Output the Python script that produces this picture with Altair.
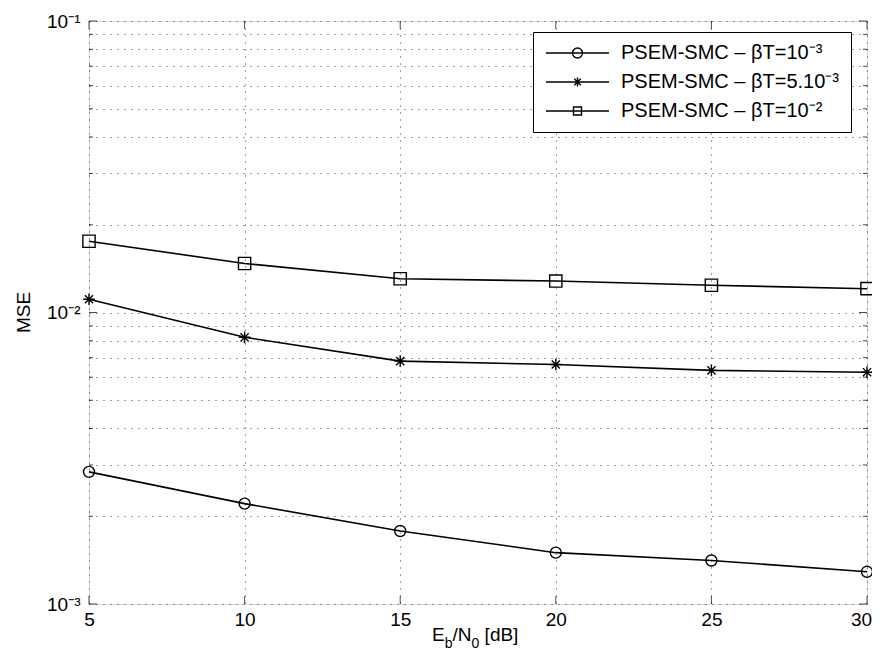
import altair as alt
import pandas as pd

# ---- data ----
ebn0 = [5, 10, 15, 20, 25, 30]
mse_bt_1e3 = [0.00284, 0.00221, 0.00178, 0.00150, 0.00141, 0.00129]
mse_bt_5e3 = [0.0111, 0.00822, 0.00681, 0.00663, 0.00633, 0.00624]
mse_bt_1e2 = [0.01755, 0.01473, 0.01306, 0.01282, 0.01240, 0.01207]
labels = ["PSEM-SMC – βT=10⁻³", "PSEM-SMC – βT=5.10⁻³", "PSEM-SMC – βT=10⁻²"]

x_ticks = [5, 10, 15, 20, 25, 30]
decades = [0.001, 0.01, 0.1]
decade_labels = ["10⁻³", "10⁻²", "10⁻¹"]
minor_mult = [2, 3, 4, 5, 6, 7, 8, 9]

FONT = "Liberation Sans"

rows = []
for lab, ys in zip(labels, [mse_bt_1e3, mse_bt_5e3, mse_bt_1e2]):
    for xv, yv in zip(ebn0, ys):
        rows.append({"x": xv, "mse": yv, "series": lab})
df = pd.DataFrame(rows)

minor_vals = [round(m * d, 6) for d in decades[:-1] for m in minor_mult]
y_grid = sorted(decades + minor_vals)

label_expr = " : ".join(
    f"datum.value == {d} ? '{t}'" for d, t in zip(decades, decade_labels)
) + " : ''"

xscale = alt.Scale(domain=[5, 30], nice=False, zero=False)
yscale = alt.Scale(type="log", domain=[0.001, 0.1], nice=False)

xaxis = alt.Axis(values=x_ticks, grid=True, gridDash=[1, 6], gridColor="black",
                 gridOpacity=0.75, ticks=False, domain=False, labelFont=FONT,
                 labelFontSize=19, labelColor="black", labelPadding=6,
                 title=None, labelFlush=False,
                 labelOffset={"condition": {"test": "datum.value == 30", "value": -6},
                              "value": 0})
yaxis = alt.Axis(values=y_grid, grid=True, gridDash=[1, 6], gridColor="black",
                 gridOpacity=0.75, ticks=False, domain=False, labelFont=FONT,
                 labelFontSize=19, labelColor="black", labelPadding=9,
                 labelExpr=label_expr, labelFlush=False,
                 title="MSE", titleFont=FONT, titleFontSize=19,
                 titleFontWeight="normal", titleColor="black",
                 titleX=-66, titleY=291, titleAngle=-90,
                 titleAlign="center", titleBaseline="middle")

X = alt.X("x:Q", scale=xscale, axis=xaxis)
Y = alt.Y("mse:Q", scale=yscale, axis=yaxis)

line = alt.Chart(df).mark_line(color="black", strokeWidth=1.6).encode(
    x=X, y=Y, detail="series:N")

star_path = "M-1,0L1,0M0,-1L0,1M-0.7,-0.7L0.7,0.7M-0.7,0.7L0.7,-0.7"
points = alt.Chart(df).mark_point(filled=False, color="black", strokeWidth=1.4,
                                  opacity=1).encode(
    x=X, y=Y,
    shape=alt.Shape("series:N", scale=alt.Scale(domain=labels,
                    range=["circle", star_path, "square"]), legend=None),
    size=alt.Size("series:N", scale=alt.Scale(domain=labels, range=[121, 150, 100]),
                  legend=None),
)

# legend symbols: line sample + marker (box 16px, 1 unit = 8px)
leg_circle = ("M-1,0L6.875,0M2.3125,0A0.625,0.625,0,1,1,3.5625,0"
              "A0.625,0.625,0,1,1,2.3125,0")
leg_star = ("M-1,0L6.875,0M2.9375,-0.56L2.9375,0.56M2.54,-0.4L3.34,0.4"
            "M2.54,0.4L3.34,-0.4")
leg_square = "M-1,0L6.875,0M2.4375,-0.5L3.4375,-0.5L3.4375,0.5L2.4375,0.5Z"

legend_layer = alt.Chart(df).transform_filter("false").mark_point(
    filled=False, color="black", strokeWidth=1.4).encode(
    x=X, y=Y,
    shape=alt.Shape("series:N", scale=alt.Scale(domain=labels,
                    range=[leg_circle, leg_star, leg_square]),
                    legend=alt.Legend(title=None, orient="none", legendX=444,
                                      legendY=11, direction="vertical",
                                      padding=11, strokeColor="black",
                                      fillColor="white", cornerRadius=0,
                                      labelFont=FONT, labelFontSize=20,
                                      labelColor="black", labelOffset=57,
                                      labelLimit=400,
                                      symbolSize=256, symbolStrokeWidth=1.4,
                                      symbolStrokeColor="black",
                                      symbolFillColor="transparent",
                                      symbolOpacity=1, rowPadding=9)),
)

# inward ticks (MATLAB style)
y_major = pd.DataFrame({"v": decades})
y_minor = pd.DataFrame({"v": minor_vals})
x_major = pd.DataFrame({"v": x_ticks})

def yticks(data, length):
    left = alt.Chart(data).mark_tick(orient="horizontal", size=length, thickness=1,
                                     color="black", xOffset=length / 2).encode(
        x=alt.datum(5, scale=xscale), y=alt.Y("v:Q", scale=yscale))
    right = alt.Chart(data).mark_tick(orient="horizontal", size=length, thickness=1,
                                      color="black", xOffset=-length / 2).encode(
        x=alt.datum(30, scale=xscale), y=alt.Y("v:Q", scale=yscale))
    return left + right

def xticks(data, length):
    bottom = alt.Chart(data).mark_tick(orient="vertical", size=length, thickness=1,
                                       color="black", yOffset=-length / 2).encode(
        x=alt.X("v:Q", scale=xscale), y=alt.datum(0.001, scale=yscale))
    top = alt.Chart(data).mark_tick(orient="vertical", size=length, thickness=1,
                                    color="black", yOffset=length / 2).encode(
        x=alt.X("v:Q", scale=xscale), y=alt.datum(0.1, scale=yscale))
    return bottom + top

ticks = yticks(y_major, 8) + yticks(y_minor, 4) + xticks(x_major, 8)

# x-axis title with subscripts: E_b/N_0 [dB]
title_parts = [("E", 0.0, 19, 0), ("b", 12.7, 14, 7), ("/N", 20.5, 19, 0),
               ("0", 39.5, 14, 7), ("[dB]", 52.6, 19, 0)]
title_start = 343
title_layers = []
for txt, dx, fs, dy in title_parts:
    title_layers.append(
        alt.Chart(pd.DataFrame({"t": [txt]})).mark_text(
            font=FONT, fontSize=fs, color="black", align="left",
            baseline="alphabetic").encode(
            text="t:N", x=alt.value(title_start + dx), y=alt.value(620 + dy)))

chart = alt.layer(line, ticks, points, legend_layer, *title_layers).resolve_scale(
    shape="independent", size="independent"
).properties(
    width=778, height=583,
    padding={"left": 81, "top": 13, "right": 5, "bottom": 50},
    autosize=alt.AutoSizeParams(type="none"),
).configure_view(stroke="black", strokeWidth=1.3).configure(background="white")

chart.save("out.html", embed_options={"renderer": "svg", "actions": False})
